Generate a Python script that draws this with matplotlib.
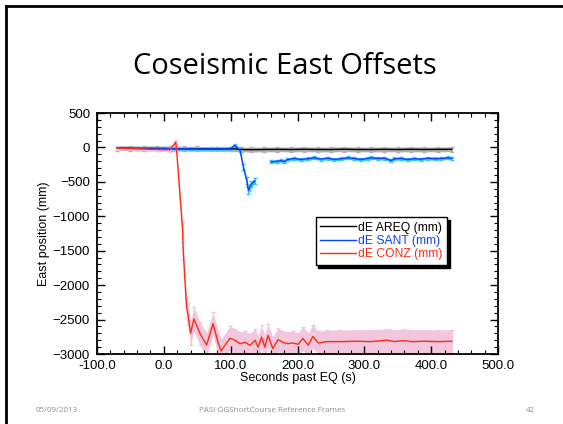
import numpy as np
import matplotlib.pyplot as plt
from matplotlib.lines import Line2D
from matplotlib.ticker import MultipleLocator

# time (s past EQ) and east offsets (mm)
t_areq = [-70, -50, -30, -10, 10, 30, 50, 70, 90, 105, 115, 130, 150, 170, 190,
          210, 230, 250, 270, 290, 310, 330, 350, 370, 390, 410, 431]
e_areq = [-10, -12, -15, -15, -18, -20, -20, -22, -22, -20, -30, -32, -30, -28,
          -30, -27, -30, -30, -26, -30, -30, -28, -30, -27, -30, -28, -27]
err_areq = [35] * len(t_areq)

t_sant1 = [-63, -40, -20, 0, 20, 40, 60, 80, 99, 106, 114, 119, 124, 126.5, 128, 131, 136]
e_sant1 = [-10, -12, -15, -15, -18, -20, -22, -20, -20, 30, -40, -285, -480, -625, -590, -530, -490]
err_sant1 = [20, 20, 20, 20, 20, 20, 20, 20, 20, 25, 30, 40, 45, 50, 50, 45, 40]

t_sant2 = [160, 170, 175, 180, 185, 195, 205, 215, 225, 235, 245, 255, 265, 275,
           285, 295, 305, 310, 320, 330, 340, 345, 355, 365, 375, 385, 395, 405,
           415, 425, 431]
e_sant2 = [-210, -200, -190, -205, -175, -160, -175, -165, -150, -170, -155, -175,
           -165, -150, -160, -175, -160, -150, -160, -155, -190, -165, -160, -175,
           -165, -170, -155, -165, -160, -150, -160]
err_sant2 = [22] * len(t_sant2)

t_conz = [-70, -40, -10, 9, 17.7, 19, 28, 29, 34, 36, 40, 45, 54, 64, 73.6, 81,
          85.6, 99, 106.5, 114, 121.5, 129, 136.5, 141, 146.4, 151, 156, 163, 171,
          178, 186, 193, 201, 208, 216, 223, 231, 244, 264, 290, 310, 333.5, 345,
          358, 370, 390, 410, 431]
e_conz = [-10, -20, -30, -35, 77, -20, -1200, -1500, -2320, -2420, -2700, -2490,
          -2700, -2870, -2560, -2830, -2955, -2770, -2800, -2850, -2830, -2875,
          -2800, -2900, -2755, -2900, -2730, -2920, -2790, -2830, -2850, -2840,
          -2860, -2775, -2870, -2745, -2840, -2820, -2820, -2815, -2820, -2800,
          -2820, -2805, -2820, -2815, -2820, -2815]
err_conz = [25, 25, 25, 25, 30, 40, 120, 130, 150, 160, 170, 170, 170, 170, 170,
            170, 170, 170, 170, 170, 170, 170, 170, 170, 170, 170, 170, 170, 170,
            170, 170, 170, 170, 170, 170, 170, 170, 170, 170, 170, 170, 170, 170,
            170, 170, 170, 170, 170]

series = [
    ("dE AREQ (mm)", t_areq, e_areq, err_areq, "black", "#b0b0b0"),
    ("dE SANT (mm)", t_sant1, e_sant1, err_sant1, "#1040ff", "#30c8ff"),
    (None, t_sant2, e_sant2, err_sant2, "#1040ff", "#30c8ff"),
    ("dE CONZ (mm)", t_conz, e_conz, err_conz, "#ff2a10", "#f2c6dc"),
]

fig = plt.figure(figsize=(5.63, 4.24), dpi=100)
fig.patch.set_facecolor("white")

# slide border (left/top)
fig.add_artist(Line2D([5.5 / 563, 5.5 / 563], [0, 1 - 6 / 424], color="black", lw=2))
fig.add_artist(Line2D([5.5 / 563, 1], [1 - 6 / 424, 1 - 6 / 424], color="black", lw=2))

fig.text(285 / 563, 1 - 66 / 424, "Coseismic East Offsets", ha="center", va="center",
         fontsize=21, family=["Open Sans", "DejaVu Sans"])

ax = fig.add_axes([97 / 563, 70 / 424, 401 / 563, 241 / 424])

# error bands first, then lines on top
for name, t, e, err, c, ec in series:
    t = np.array(t); e = np.array(e); err = np.array(err)
    ax.fill_between(t, e - err, e + err, color=ec, lw=0, zorder=1)
    ax.errorbar(t, e, yerr=err, fmt="none", ecolor=ec, elinewidth=0.8, capsize=1.5, zorder=1)

handles = []
for name, t, e, err, c, ec in series:
    ln, = ax.plot(t, e, color=c, lw=1.0, zorder=3)
    if name:
        ln.set_label(name)
        handles.append(ln)

ax.set_xlim(-100, 500)
ax.set_ylim(-3000, 500)
ax.xaxis.set_major_locator(MultipleLocator(100))
ax.xaxis.set_minor_locator(MultipleLocator(20))
ax.yaxis.set_major_locator(MultipleLocator(500))
ax.yaxis.set_minor_locator(MultipleLocator(100))
ax.xaxis.set_major_formatter(lambda v, p: f"{v:.1f}")
ax.tick_params(which="both", direction="in", top=True, right=True, labelsize=9.5)
ax.tick_params(which="major", length=6, width=1)
ax.tick_params(which="minor", length=3, width=0.8)
ax.tick_params(axis="x", pad=4)
ax.tick_params(axis="y", pad=5)
for s in ax.spines.values():
    s.set_linewidth(1.3)
for lab in ax.get_xticklabels() + ax.get_yticklabels():
    lab.set_family(["Liberation Sans", "DejaVu Sans"])

ax.set_xlabel("Seconds past EQ (s)", fontsize=9, family=["Liberation Sans"], labelpad=0.5)
ax.set_ylabel("East position (mm)", fontsize=9, family=["Liberation Sans"], labelpad=2)

leg = ax.legend(handles=handles, loc="upper left", bbox_to_anchor=(0.53, 0.592),
                frameon=True, fancybox=False, shadow={"color": "black", "alpha": 1},
                handlelength=3.0, handletextpad=0.2, borderpad=0.35, labelspacing=0.12,
                prop={"family": "Liberation Sans", "size": 8.7})
leg.get_frame().set_edgecolor("black")
leg.get_frame().set_linewidth(1.0)
for txt, h in zip(leg.get_texts(), handles):
    txt.set_color(h.get_color())

foot = dict(fontsize=5.8, color="#8c8c8c", va="center", family=["Open Sans", "DejaVu Sans"])
fig.text(57 / 563, 1 - 410 / 424, "05/09/2013", ha="center", **foot)
fig.text(272 / 563, 1 - 410 / 424, "PASI GGShortCourse Reference Frames", ha="center", **foot)
fig.text(530 / 563, 1 - 410 / 424, "42", ha="center", **foot)

fig.savefig("out.png", dpi=100)
